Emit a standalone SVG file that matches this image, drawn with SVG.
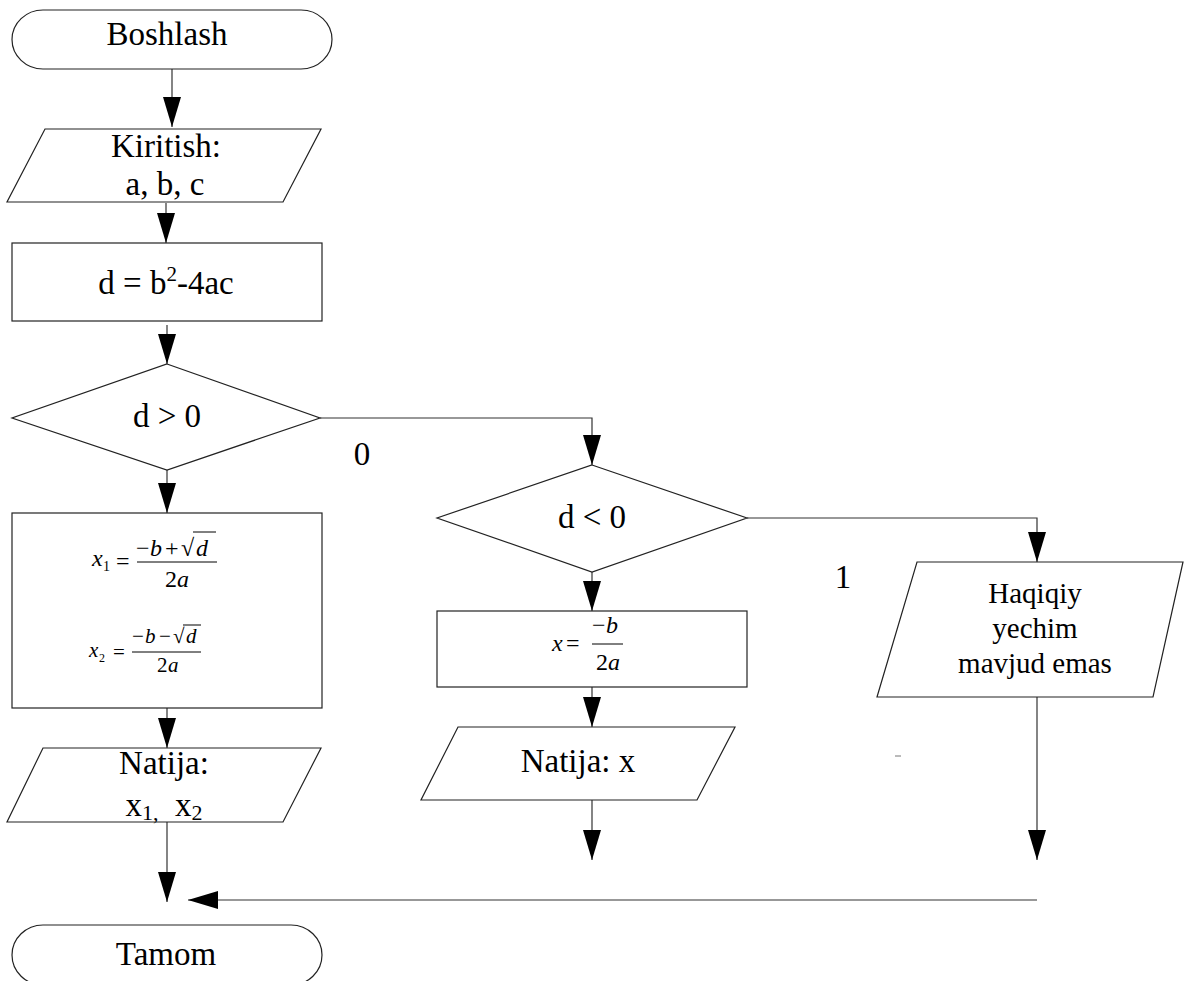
<svg xmlns="http://www.w3.org/2000/svg" width="1184" height="981" viewBox="0 0 1184 981">
  <style>
    .shape { fill: #fff; stroke: #222; stroke-width: 1.2; }
    .conn { fill: none; stroke: #333; stroke-width: 1.2; }
    .t { font-family: "Liberation Serif", "Times New Roman", serif; font-size: 33px; fill: #000; text-anchor: middle; }
    .ts { font-family: "Liberation Serif", "Times New Roman", serif; font-size: 29px; fill: #000; text-anchor: middle; }
    .m { font-family: "Liberation Serif", "Times New Roman", serif; fill: #000; }
    .i { font-style: italic; }
    .rule { stroke: #000; stroke-width: 1; }
  </style>
  <defs>
    <marker id="ah" markerUnits="userSpaceOnUse" markerWidth="30" markerHeight="18" refX="30" refY="9" orient="auto">
      <path d="M0,0 L30,9 L0,18 Z" fill="#000"/>
    </marker>
  </defs>

  <rect width="1184" height="981" fill="#fff"/>

  <!-- connectors -->
  <g id="connectors">
    <line class="conn" x1="172" y1="69" x2="172" y2="127" marker-end="url(#ah)"/>
    <line class="conn" x1="166" y1="203" x2="166" y2="243" marker-end="url(#ah)"/>
    <line class="conn" x1="167" y1="325" x2="167" y2="364" marker-end="url(#ah)"/>
    <line class="conn" x1="167" y1="470" x2="167" y2="513" marker-end="url(#ah)"/>
    <line class="conn" x1="167" y1="708" x2="167" y2="748" marker-end="url(#ah)"/>
    <line class="conn" x1="167" y1="822" x2="167" y2="902" marker-end="url(#ah)"/>
    <polyline class="conn" points="320,418 592,418 592,465" marker-end="url(#ah)"/>
    <line class="conn" x1="592" y1="572" x2="592" y2="611" marker-end="url(#ah)"/>
    <line class="conn" x1="592" y1="687" x2="592" y2="727" marker-end="url(#ah)"/>
    <line class="conn" x1="592" y1="800" x2="592" y2="860" marker-end="url(#ah)"/>
    <polyline class="conn" points="747,518 1037,518 1037,562" marker-end="url(#ah)"/>
    <line class="conn" x1="1037" y1="697" x2="1037" y2="860" marker-end="url(#ah)"/>
    <line class="conn" x1="1037" y1="900" x2="188" y2="900" marker-end="url(#ah)"/>
    <text class="t" x="362" y="465">0</text>
    <text class="t" x="843" y="588">1</text>
    <line x1="895" y1="756" x2="901" y2="756" stroke="#777" stroke-width="1"/>
  </g>

  <!-- start -->
  <g id="start">
    <rect class="shape" x="12" y="10" width="320" height="59" rx="31" ry="29.5"/>
    <text class="t" x="167" y="45">Boshlash</text>
  </g>

  <!-- input a, b, c -->
  <g id="input">
    <polygon class="shape" points="45,129 321,129 283,202 7,202"/>
    <text class="t" x="166" y="157">Kiritish:</text>
    <text class="t" x="165" y="195">a, b, c</text>
  </g>

  <!-- discriminant -->
  <g id="discriminant">
    <rect class="shape" x="12" y="243" width="310" height="78"/>
    <text class="t" x="166" y="294">d = b<tspan font-size="21" dy="-13">2</tspan><tspan dy="13">-4ac</tspan></text>
  </g>

  <!-- d > 0 -->
  <g id="check-positive">
    <polygon class="shape" points="167,364 320,418 167,470 12,418"/>
    <text class="t" x="167" y="427">d &gt; 0</text>
  </g>

  <!-- two roots -->
  <g id="two-roots">
    <rect class="shape" x="12" y="513" width="310" height="195"/>
    <g class="m" font-size="24">
      <text x="92" y="566" class="i">x</text>
      <text x="103" y="571" font-size="14">1</text>
      <text x="116" y="569">=</text>
      <text x="136" y="556">−</text>
      <text x="150" y="556" class="i">b</text>
      <text x="165" y="556">+</text>
      <text x="181" y="556">√</text>
      <text x="196" y="556" class="i">d</text>
      <text x="165" y="587">2</text>
      <text x="177" y="587" class="i">a</text>
    </g>
    <line class="rule" x1="193" y1="532" x2="216" y2="532"/>
    <line class="rule" x1="137" y1="562" x2="217" y2="562"/>
    <g class="m" font-size="21">
      <text x="89" y="657" class="i">x</text>
      <text x="99" y="662" font-size="12">2</text>
      <text x="113" y="659">=</text>
      <text x="132" y="643">−</text>
      <text x="145" y="643" class="i">b</text>
      <text x="159" y="643">−</text>
      <text x="173" y="643">√</text>
      <text x="186" y="643" class="i">d</text>
      <text x="157" y="672">2</text>
      <text x="168" y="672" class="i">a</text>
    </g>
    <line class="rule" x1="183" y1="625" x2="201" y2="625"/>
    <line class="rule" x1="132" y1="652" x2="201" y2="652"/>
  </g>

  <!-- output x1, x2 -->
  <g id="output-two">
    <polygon class="shape" points="43,748 321,748 283,822 7,822"/>
    <text class="t" x="164" y="774">Natija:</text>
    <text class="t" x="164" y="816">x<tspan font-size="22" dy="4">1,</tspan><tspan dy="-4">&#160;&#160;x</tspan><tspan font-size="22" dy="4">2</tspan></text>
  </g>

  <!-- end -->
  <g id="end">
    <rect class="shape" x="12" y="925" width="310" height="60" rx="31" ry="30"/>
    <text class="t" x="166" y="965">Tamom</text>
  </g>

  <!-- d < 0 -->
  <g id="check-negative">
    <polygon class="shape" points="592,465 747,518 592,572 437,518"/>
    <text class="t" x="592" y="528">d &lt; 0</text>
  </g>

  <!-- single root -->
  <g id="one-root">
    <rect class="shape" x="437" y="611" width="310" height="76"/>
    <g class="m" font-size="24">
      <text x="552" y="651" class="i">x</text>
      <text x="566" y="651">=</text>
      <text x="592" y="633">−</text>
      <text x="606" y="633" class="i">b</text>
      <text x="596" y="670">2</text>
      <text x="608" y="670" class="i">a</text>
    </g>
    <line class="rule" x1="592" y1="644" x2="623" y2="644"/>
  </g>

  <!-- output x -->
  <g id="output-one">
    <polygon class="shape" points="458,727 735,727 697,800 421,800"/>
    <text class="t" x="578" y="772">Natija: x</text>
  </g>

  <!-- no real solution -->
  <g id="no-solution">
    <polygon class="shape" points="917,562 1183,562 1153,697 877,697"/>
    <text class="ts" x="1035" y="603">Haqiqiy</text>
    <text class="ts" x="1035" y="638">yechim</text>
    <text class="ts" x="1035" y="673">mavjud emas</text>
  </g>
</svg>
